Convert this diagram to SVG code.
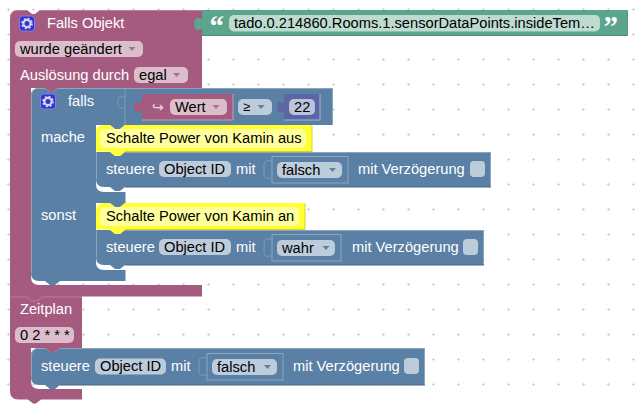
<svg xmlns="http://www.w3.org/2000/svg" width="635" height="407" viewBox="0 0 635 407">
<style>
text{font-family:"Liberation Sans",Arial,sans-serif;font-size:14.67px;white-space:pre}
.w{fill:#fff}.k{fill:#000}
.pur{fill:#a55b80}.blu{fill:#5b80a5}.grn{fill:#5ba58c}.ind{fill:#5b67a5}.yel{fill:#ffff33}
.hl{stroke:#8ca6c0;fill:none;stroke-width:1}.ds{stroke:#49668a;fill:none;stroke-width:1}
.pp{fill:#dbbdcc}.bp{fill:#bdccdb}.gp{fill:#bddccf}.yp{fill:#ffffa0}
.slot{fill:#5b80a5;stroke:#8ca6c0;stroke-width:1}
.arp{fill:#a5748c}
</style>
<defs>
<pattern id="grid" width="25" height="25" patternUnits="userSpaceOnUse" x="-4" y="-3">
<path d="M11 12.500h3M12.500 11v3" stroke="#d4d4d4" stroke-width="1"/>
</pattern>
<g id="gear">
<rect x="0.500" y="0.500" width="15" height="15" rx="3" fill="#3434cf" stroke="#7f7fe8"/>
<circle cx="8" cy="8" r="3.600" fill="none" stroke="#d6d6f5" stroke-width="2.200"/>
<circle cx="8" cy="8" r="5" fill="none" stroke="#d6d6f5" stroke-width="1.600" stroke-dasharray="2 1.930"/>
</g>
<path id="ar" d="M0 0h7l-3.500 4z"/>
</defs>
<rect width="635" height="407" fill="#fff"/>
<rect width="635" height="407" fill="url(#grid)"/>

<g id="connectors"></g>

<g id="hat-falls-objekt">
<path class="pur" d="M10 18Q10 10 18 10H27l5 4h3l5-4H202V88H58l-5 4h-3l-5-4H31V277Q31 285 39 285H202V296.500H82V348H60l-5 4h-5l-5-4H31V381Q31 389 39 389H82V399.500H41l-5 4h-3l-5-4H18Q10 399.500 10 391V18z"/>
<path d="M10.500 18Q10.500 10.500 18 10.500H27M40 10.500H202" stroke="#b97d9b" fill="none"/>
<use href="#gear" x="19" y="15.500"/>
<text class="w" x="47" y="28">Falls Objekt</text>
<rect class="pp" x="15" y="41" width="128" height="16" rx="5"/>
<text class="k" x="20" y="54">wurde geändert</text>
<use href="#ar" class="arp" x="128.500" y="47"/>
<text class="w" x="20" y="80">Auslösung durch</text>
<rect class="pp" x="134" y="67" width="54" height="16" rx="5"/>
<text class="k" x="139" y="80">egal</text>
<use href="#ar" class="arp" x="173" y="73"/>
</g>

<g id="text-tado">
<path class="grn" d="M202 10H627.500V36H202V29h-1c-3 2-7 1-7-5s4-7 7-5h1z"/>
<path d="M202 35.500H627.500V10.500" stroke="#498470" fill="none" opacity=".8"/>
<text class="w" x="209.500" y="36" style="font-family:'Liberation Serif',serif;font-size:29px;font-weight:bold">“</text>
<rect class="gp" x="229" y="15" width="371" height="16.500" rx="5"/>
<text class="k" x="234" y="28">tado.0.214860.Rooms.1.sensorDataPoints.insideTem…</text>
<text class="w" x="603.500" y="36" style="font-family:'Liberation Serif',serif;font-size:29px;font-weight:bold">”</text>
</g>

<g id="if-block">
<path class="blu" d="M31 96Q31 88 39 88H45l5 4h3l5-4H333V125H125l-5 4h-5l-5-4H96V184Q96 192 104 192H125.500V203H125l-5 4h-5l-5-4H96V262Q96 270 104 270H125.500V281H60l-5 4h-5l-5-4H39Q31 281 31 273V96z"/>
<path d="M125 88.500V125" stroke="#7d9ab8" fill="none"/>
<path class="hl" d="M31.500 273V96Q31.500 88.500 39 88.500H45M58 88.500H332.500V125"/>
<use href="#gear" x="40" y="93.500"/>
<text class="w" x="68" y="106">falls</text>
<text class="w" x="41" y="142">mache</text>
<text class="w" x="41" y="220">sonst</text>
<path d="M125 97h-3c-3-1-4 0-4 5v2c0 4 1 5 4 4h3" fill="none" stroke="#7d9ab8"/>
</g>

<g id="var-wert">
<path class="pur" d="M142 94H233V120H142V111h-1c-3 2-7 1-7-4s4-6 7-4h1z"/>
<path d="M142 120H233V94" stroke="#c99ab2" fill="none"/>
<text fill="#e8d8e0" x="152" y="112" style="font-family:'DejaVu Sans',sans-serif;font-size:14px">↪</text>
<rect class="pp" x="170" y="99" width="57" height="16" rx="5"/>
<text class="k" x="175" y="112">Wert</text>
<use href="#ar" class="arp" x="212.500" y="105"/>
</g>
<g id="op-gte">
<rect class="bp" x="238" y="99" width="34" height="16" rx="5"/>
<text class="k" x="243" y="111" style="font-size:13px">≥</text>
<use href="#ar" fill="#5b80a5" x="257.500" y="105"/>
</g>
<g id="num-22">
<path class="ind" d="M284 94H320V120H284V111h-1c-3 2-6 1-6-4s3-6 6-4h1z"/>
<path d="M284 120H320V94" stroke="#a9b1d4" fill="none"/>
<rect fill="#bdc2db" x="289" y="99" width="26" height="16" rx="5"/>
<text class="k" x="294" y="112">22</text>
</g>

<g id="comment-aus">
<path class="yel" d="M96 133Q96 125 104 125H110l5 4h5l5-4H312V151.500H125l-5 4h-5l-5-4H96z"/>
<path d="M125 151.500H312V125.500" stroke="#d6d02e" fill="none"/>
<rect class="yp" x="100" y="129" width="206" height="19" rx="5"/>
<text class="k" x="106" y="143">Schalte Power von Kamin aus</text>
</g>

<g id="set-aus">
<path class="blu" d="M96 152H110l5 4h5l5-4H491V187H125l-5 4h-5l-5-4H104Q96 187 96 179z"/>
<path class="yel" d="M110 151.500l5 4h5l5-4z"/>
<path class="hl" d="M96.500 179V152.500M125 152.500H490.500V187"/>
<path class="ds" d="M125 187H491"/>
<text class="w" x="106" y="174">steuere</text>
<rect class="bp" x="159" y="161" width="72" height="16" rx="5"/>
<text class="k" x="164" y="174">Object ID</text>
<text class="w" x="236" y="174">mit</text>
<path d="M272 161h-3c-3-1-5 0-5 5v7c0 5 2 6 5 5h3" fill="none" stroke="#7d9ab8"/>
<rect class="slot" x="272" y="156.500" width="76" height="26.500"/>
<rect class="bp" x="277" y="162" width="65" height="16" rx="5"/>
<text class="k" x="282" y="175">falsch</text>
<use href="#ar" fill="#5b80a5" x="329" y="168"/>
<text class="w" x="358" y="174">mit Verzögerung</text>
<rect class="bp" x="470" y="161" width="15" height="16" rx="4"/>
</g>

<g id="comment-an">
<path class="yel" d="M96 211Q96 203 104 203H110l5 4h5l5-4H305V229.500H125l-5 4h-5l-5-4H96z"/>
<path d="M125 229.500H305V203.500" stroke="#d6d02e" fill="none"/>
<rect class="yp" x="100" y="207" width="199" height="19" rx="5"/>
<text class="k" x="106" y="221">Schalte Power von Kamin an</text>
</g>

<g id="set-an">
<path class="blu" d="M96 230H110l5 4h5l5-4H484V265H125l-5 4h-5l-5-4H104Q96 265 96 257z"/>
<path class="yel" d="M110 229.500l5 4h5l5-4z"/>
<path class="hl" d="M96.500 257V230.500M125 230.500H483.500V265"/>
<path class="ds" d="M125 265H484"/>
<text class="w" x="106" y="252">steuere</text>
<rect class="bp" x="159" y="239" width="72" height="16" rx="5"/>
<text class="k" x="164" y="252">Object ID</text>
<text class="w" x="236" y="252">mit</text>
<path d="M272 239h-3c-3-1-5 0-5 5v7c0 5 2 6 5 5h3" fill="none" stroke="#7d9ab8"/>
<rect class="slot" x="272" y="234.500" width="69" height="26.500"/>
<rect class="bp" x="277" y="240" width="58" height="16" rx="5"/>
<text class="k" x="282" y="253">wahr</text>
<use href="#ar" fill="#5b80a5" x="322.500" y="246"/>
<text class="w" x="352" y="252">mit Verzögerung</text>
<rect class="bp" x="463" y="239" width="15" height="16" rx="4"/>
</g>

<g id="schedule">
<path d="M10.500 297H27l5 4h5l5-4H82" stroke="#b97d9b" fill="none"/>
<text class="w" x="20" y="314">Zeitplan</text>
<rect class="pp" x="15" y="327" width="59" height="16" rx="5"/>
<text class="k" x="20" y="340">0 2 * * *</text>
</g>

<g id="set-schedule">
<path class="blu" d="M31 356Q31 348 39 348H45l5 4h5l5-4H425V385H60l-5 4h-5l-5-4H39Q31 385 31 377z"/>
<path class="hl" d="M31.500 377V356Q31.500 348.500 39 348.500H45M60 348.500H424.500V385"/>
<path class="ds" d="M60 385H425"/>
<text class="w" x="41" y="371">steuere</text>
<rect class="bp" x="95" y="358.500" width="71" height="16" rx="5"/>
<text class="k" x="100" y="371">Object ID</text>
<text class="w" x="171" y="371">mit</text>
<path d="M207 358h-3c-3-1-5 0-5 5v7c0 5 2 6 5 5h3" fill="none" stroke="#7d9ab8"/>
<rect class="slot" x="207" y="353.500" width="76" height="26.500"/>
<rect class="bp" x="212" y="359" width="65" height="16" rx="5"/>
<text class="k" x="217" y="372">falsch</text>
<use href="#ar" fill="#5b80a5" x="264" y="365"/>
<text class="w" x="293" y="371">mit Verzögerung</text>
<rect class="bp" x="404" y="358" width="15" height="16" rx="4"/>
</g>
</svg>
